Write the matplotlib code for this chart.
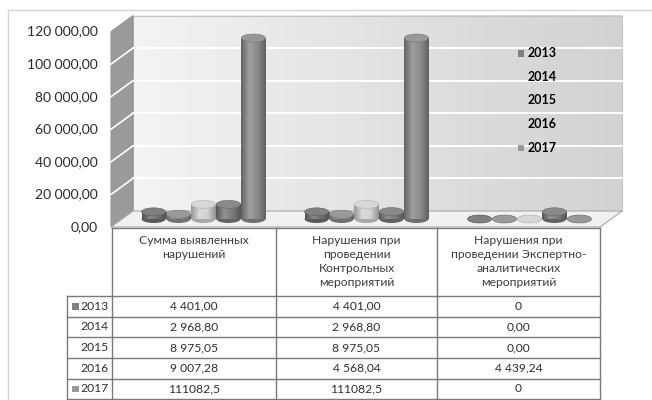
import numpy as np
import matplotlib
matplotlib.use('Agg')
import matplotlib.pyplot as plt
from matplotlib.patches import Rectangle, Polygon, Ellipse
from matplotlib.colors import LinearSegmentedColormap, to_rgb

# ---------------- data ----------------
categories = ["Сумма выявленных\nнарушений",
              "Нарушения при\nпроведении\nКонтрольных\nмероприятий",
              "Нарушения при\nпроведении Экспертно-\nаналитических\nмероприятий"]
years = ["2013", "2014", "2015", "2016", "2017"]
values_2013 = [4401.00, 4401.00, 0]
values_2014 = [2968.80, 2968.80, 0.00]
values_2015 = [8975.05, 8975.05, 0.00]
values_2016 = [9007.28, 4568.04, 4439.24]
values_2017 = [111082.5, 111082.5, 0]
table_2013 = ["4 401,00", "4 401,00", "0"]
table_2014 = ["2 968,80", "2 968,80", "0,00"]
table_2015 = ["8 975,05", "8 975,05", "0,00"]
table_2016 = ["9 007,28", "4 568,04", "4 439,24"]
table_2017 = ["111082,5", "111082,5", "0"]
y_ticks = [0, 20000, 40000, 60000, 80000, 100000, 120000]
y_tick_labels = ["0,00", "20 000,00", "40 000,00", "60 000,00",
                 "80 000,00", "100 000,00", "120 000,00"]

series_values = [values_2013, values_2014, values_2015, values_2016, values_2017]
series_table = [table_2013, table_2014, table_2015, table_2016, table_2017]
bar_colors = ['#6f6f6f', '#8c8c8c', '#d2d2d2', '#7a7a7a', '#8a8a8a']
# legend keys: only 2013 and 2017 keys are visible in the (grayscale) original
legend_colors = ['#808080', None, None, None, '#9a9a9a']

FONT = ['Lato', 'DejaVu Sans']
plt.rcParams['font.family'] = FONT

# ---------------- layout (pixels) ----------------
W, H = 652, 400
AX_L, AX_R = 122, 611
AX_B, AX_T = 219, 23.5
DX, DY = 11, 8

fig = plt.figure(figsize=(W / 100, H / 100), dpi=100)
fig.patch.set_facecolor('white')
ov = fig.add_axes([0, 0, 1, 1])
ov.set_xlim(0, W)
ov.set_ylim(H, 0)
ov.axis('off')
ov.set_zorder(0)

ax = fig.add_axes([AX_L / W, 1 - AX_B / H, (AX_R - AX_L) / W, (AX_B - AX_T) / H])
ax.set_zorder(2)
ax.patch.set_alpha(0)
ax.axis('off')
ax.set_xlim(-0.5, 2.5)
ax.set_ylim(y_ticks[0], y_ticks[-1])
ax.set_autoscale_on(False)


def to_img(xd, yd):
    d = ax.transData.transform((xd, yd))
    return d[0], H - d[1]


def shade(c, f):
    r, g, b = to_rgb(c)
    if f < 1:
        return (r * f, g * f, b * f)
    return tuple(min(1, v + (1 - v) * (f - 1)) for v in (r, g, b))


# outer frame
ov.plot([8, 8, W], [H, 10, 10], color='#d4d4d4', lw=1.0)

# walls
xL, y0 = to_img(-0.5, y_ticks[0])
xR, ytop = to_img(2.5, y_ticks[-1])
bx0, bx1 = xL + DX, xR + DX
by0, by1 = y0 - DY, ytop - DY
grad = np.linspace(0, 1, 256)[None, :]
wall_cmap = LinearSegmentedColormap.from_list('w', ['#f4f4f4', '#e2e2e2', '#d2d2d2'])
ov.imshow(grad, cmap=wall_cmap, extent=[bx0, bx1, by0, by1], aspect='auto', zorder=1)
ov.add_patch(Rectangle((bx0, by1), bx1 - bx0, by0 - by1, fill=False,
                       edgecolor='#c4c4c4', lw=0.8, zorder=2))
ov.set_xlim(0, W)
ov.set_ylim(H, 0)
lw_poly = Polygon([(xL - DX, y0 + DY), (xL - DX, ytop + DY), (xL + DX, ytop - DY), (xL + DX, y0 - DY)],
                  closed=True, facecolor='#9a9a9a', edgecolor='#8a8a8a', lw=0.6, zorder=2)
ov.add_patch(lw_poly)
fl_poly = Polygon([(xL - DX, y0 + DY), (xR - DX, y0 + DY), (xR + DX, y0 - DY), (xL + DX, y0 - DY)],
                  closed=True, facecolor='#f1f1f1', edgecolor='#a8a8a8', lw=0.8, zorder=2)
ov.add_patch(fl_poly)

# gridlines and tick labels
for v, lab in zip(y_ticks, y_tick_labels):
    _, yy = to_img(0, v)
    if 0 < v < y_ticks[-1]:
        ov.plot([bx0, bx1], [yy - DY, yy - DY], color='white', lw=1.4, zorder=3)
        ov.plot([xL - DX, xL + DX], [yy + DY, yy - DY], color='white', lw=1.2, zorder=3)
    ov.text(98, yy + DY, lab, ha='right', va='center', fontsize=10, color='#2a2a2a', zorder=5)

# cylinders
n = len(series_values)
step = 0.153
bw = 0.148
eh = 8 / (AX_B - AX_T) * (y_ticks[-1] - y_ticks[0])
for i, vals in enumerate(series_values):
    c = bar_colors[i]
    cmap = LinearSegmentedColormap.from_list(
        'c%d' % i, [shade(c, 0.72), shade(c, 1.18), c, shade(c, 0.7)])
    xs = np.arange(len(vals)) + (i - (n - 1) / 2) * step
    bars = ax.bar(xs, vals, bw, color=c, zorder=3, linewidth=0)
    for x, v, b in zip(xs, vals, bars):
        ax.add_patch(Ellipse((x, 0), bw, eh, facecolor=shade(c, 0.8),
                             edgecolor='none', zorder=2.9, clip_on=False))
        if v > 0:
            im = ax.imshow(np.linspace(0, 1, 64)[None, :], cmap=cmap,
                           extent=[x - bw / 2, x + bw / 2, 0, v], aspect='auto', zorder=3.1)
            im.set_clip_path(b)
        ax.add_patch(Ellipse((x, v), bw, eh, facecolor=shade(c, 1.12),
                             edgecolor=shade(c, 0.85), lw=0.4, zorder=3.5, clip_on=False))
ax.set_xlim(-0.5, 2.5)
ax.set_ylim(y_ticks[0], y_ticks[-1])

# legend
leg_y0, leg_dy = 53.3, 23.6
for i, yr in enumerate(years):
    yy = leg_y0 + i * leg_dy
    if legend_colors[i] is not None:
        ov.add_patch(Rectangle((518, yy - 3.2), 6.4, 6.4, facecolor=legend_colors[i],
                               edgecolor='none', zorder=6))
    ov.text(527.5, yy, yr, ha='left', va='center', fontsize=9, fontweight='bold',
            color='black', zorder=6)

# data table
col_edges = [112, 276, 437, 600]
lab_left = 67
head_top, head_bot = 228, 296
row_h = 20.65
line_c = '#7a7a7a'
rows_bottom = head_bot + len(years) * row_h
for xe in col_edges:
    ov.plot([xe, xe], [head_top, rows_bottom], color=line_c, lw=1.0, zorder=4)
ov.plot([lab_left, lab_left], [head_bot, rows_bottom], color=line_c, lw=1.0, zorder=4)
ov.plot([col_edges[0], col_edges[-1]], [head_top, head_top], color=line_c, lw=1.0, zorder=4)
for k in range(len(years) + 1):
    yy = head_bot + k * row_h
    ov.plot([lab_left, col_edges[-1]], [yy, yy], color=line_c, lw=1.0, zorder=4)

for j, cat in enumerate(categories):
    cx = (col_edges[j] + col_edges[j + 1]) / 2
    ov.text(cx, 235.5, cat, ha='center', va='top', fontsize=8.7, color='#3c3c3c',
            linespacing=1.3, zorder=5)

for k, yr in enumerate(years):
    yy = head_bot + (k + 0.5) * row_h
    if legend_colors[k] is not None:
        ov.add_patch(Rectangle((72, yy - 3.3), 6.6, 6.6, facecolor=legend_colors[k],
                               edgecolor='none', zorder=5))
    ov.text(108.5, yy, yr, ha='right', va='center', fontsize=8.7, color='#2e2e2e', zorder=5)
    for j in range(len(categories)):
        cx = (col_edges[j] + col_edges[j + 1]) / 2
        ov.text(cx, yy, series_table[k][j], ha='center', va='center', fontsize=8.7,
                color='#2e2e2e', zorder=5)

fig.savefig('out.png', dpi=100)
